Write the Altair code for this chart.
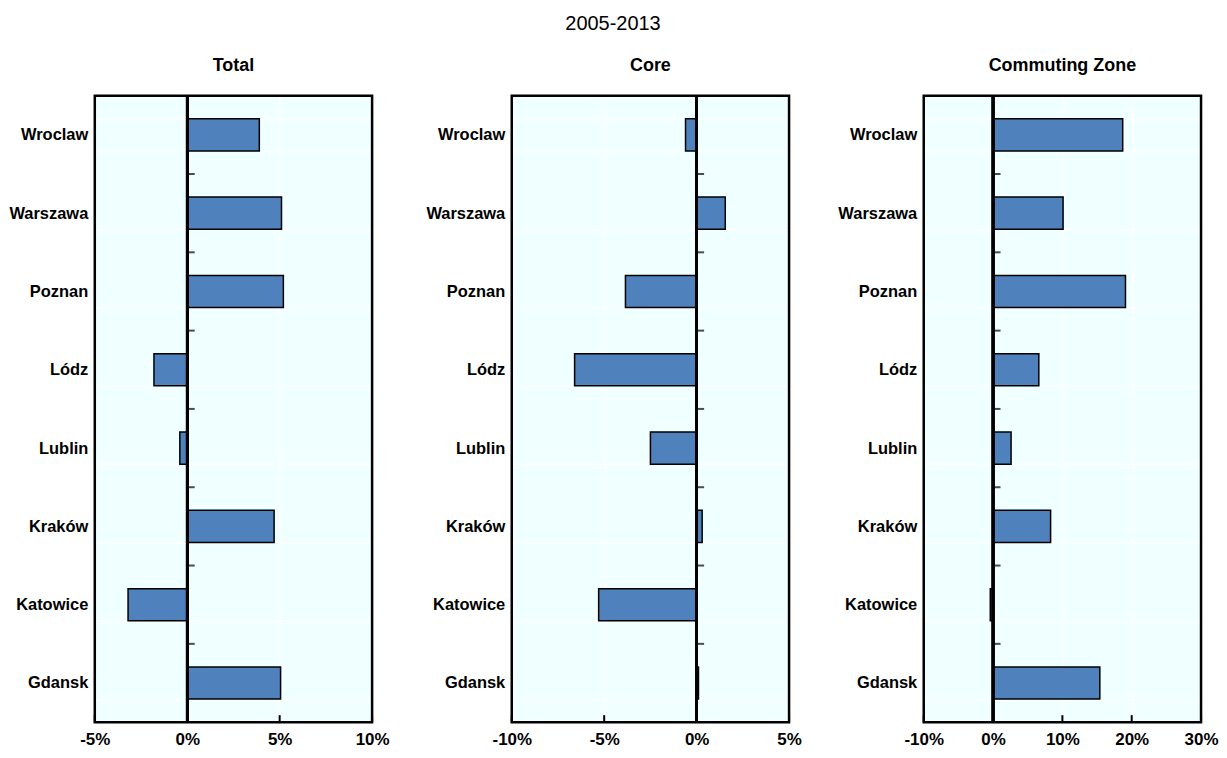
import altair as alt
import pandas as pd

cities = ["Wroclaw", "Warszawa", "Poznan", "Lódz", "Lublin", "Kraków", "Katowice", "Gdansk"]
total = [3.9, 5.1, 5.2, -1.8, -0.4, 4.7, -3.2, 5.05]
core = [-0.6, 1.55, -3.85, -6.6, -2.5, 0.3, -5.3, 0.1]
commuting = [18.7, 10.1, 19.1, 6.6, 2.6, 8.3, -0.4, 15.4]

panel_titles = ["Total", "Core", "Commuting Zone"]
domains = [[-5, 10], [-10, 5], [-10, 30]]
tick_vals = [[-5, 0, 5, 10], [-10, -5, 0, 5], [-10, 0, 10, 20, 30]]
main_title = "2005-2013"

W = 278
H = 628
FONT = "Liberation Sans"
BAR = "#4F81BD"
BG = "#F0FFFF"


def xenc(field, domain, ticks):
    return alt.X(
        field,
        type="quantitative",
        title=None,
        scale=alt.Scale(domain=domain, nice=False, zero=False),
        axis=alt.Axis(
            values=ticks,
            labelExpr="datum.value + '%'",
            domain=False,
            ticks=False,
            grid=True,
            gridColor="white",
            gridWidth=1.5,
            labelFont=FONT,
            labelFontSize=17,
            labelFontWeight="bold",
            labelColor="black",
            labelPadding=9,
            labelFlush=False,
        ),
    )


def yenc(extent):
    return alt.Y(
        "city:N",
        sort=cities,
        title=None,
        scale=alt.Scale(paddingInner=0.59, paddingOuter=0.295),
        axis=alt.Axis(
            domain=False,
            ticks=False,
            tickBand="extent",
            grid=True,
            gridColor="white",
            gridWidth=1.5,
            labelFont=FONT,
            labelFontSize=16.5,
            labelFontWeight="bold",
            labelColor="black",
            labelPadding=7,
            minExtent=extent,
            maxExtent=extent,
        ),
    )


def panel(values, title, domain, ticks, extent):
    df = pd.DataFrame({"city": cities, "value": values, "zero": [0] * len(cities)})
    tdf = pd.DataFrame({"t": ticks})
    base = alt.Chart(df)
    bars = base.mark_bar(color=BAR, stroke="black", strokeWidth=1.5).encode(
        x=xenc("value", domain, ticks), y=yenc(extent)
    )
    zero_rule = base.mark_rule(color="black", strokeWidth=2.5).encode(
        x=xenc("zero", domain, ticks)
    )
    cat_ticks = (
        base.transform_filter(alt.datum.city != cities[0])
        .mark_tick(orient="horizontal", size=7, thickness=2, color="black", xOffset=4, yOffset=-H / 16)
        .encode(x=xenc("zero", domain, ticks), y=yenc(extent))
    )
    x_ticks = (
        alt.Chart(tdf)
        .mark_rule(color="black", strokeWidth=2)
        .encode(x=xenc("t", domain, ticks), y=alt.value(H), y2=alt.value(H - 7))
    )
    border = (
        alt.Chart(tdf.head(1))
        .mark_rect(filled=False, stroke="black", strokeWidth=2.5)
        .encode(x=alt.value(0), x2=alt.value(W), y=alt.value(0), y2=alt.value(H))
    )
    return alt.layer(bars, zero_rule, cat_ticks, x_ticks, border).properties(
        width=W,
        height=H,
        view=alt.ViewBackground(fill=BG, stroke=None),
        title=alt.TitleParams(
            title, font=FONT, fontSize=18, fontWeight="bold", color="black",
            anchor="middle", offset=13,
        ),
    )


panels = [
    panel(v, t, d, tk, e)
    for v, t, d, tk, e in zip([total, core, commuting], panel_titles, domains, tick_vals, [87, 89, 89])
]

chart = (
    alt.hconcat(*panels, spacing=33)
    .properties(
        padding={"left": 0, "top": 5, "right": 0, "bottom": 0},
        title=alt.TitleParams(
            main_title, font=FONT, fontSize=20, fontWeight="normal", color="black",
            anchor="middle", offset=23,
        ),
    )
    .configure_view(fill=BG, stroke=None)
)

chart.save("out.html", embed_options={"renderer": "svg", "actions": False})
